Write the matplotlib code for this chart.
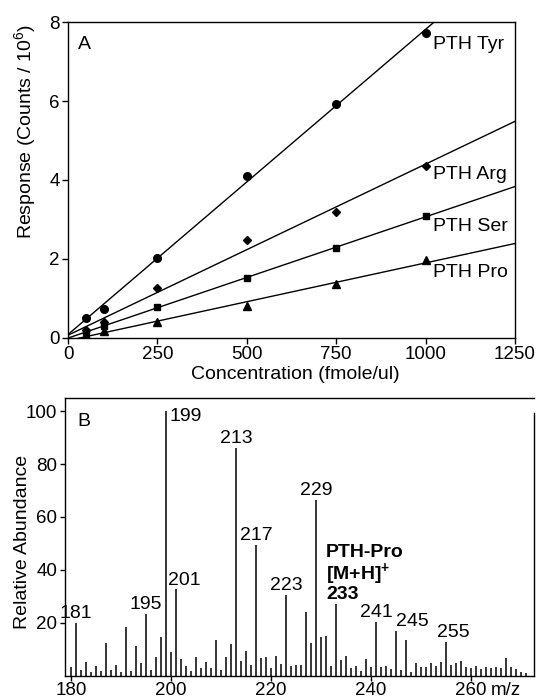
import numpy as np
import matplotlib
matplotlib.use('Agg')
import matplotlib.pyplot as plt

plt.rcParams['font.family'] = ['Liberation Sans', 'DejaVu Sans']
plt.rcParams['mathtext.fontset'] = 'custom'
plt.rcParams['mathtext.rm'] = 'Liberation Sans'
plt.rcParams['mathtext.it'] = 'Liberation Sans'
plt.rcParams['mathtext.bf'] = 'Liberation Sans:bold'

# --- panel A: calibration data ---
conc = [50, 100, 250, 500, 750, 1000]
tyr = [0.51, 0.73, 2.02, 4.09, 5.93, 7.72]
arg = [0.20, 0.40, 1.27, 2.47, 3.20, 4.36]
ser = [0.15, 0.30, 0.78, 1.53, 2.28, 3.08]
pro = [0.08, 0.17, 0.40, 0.82, 1.37, 1.98]
series_names = ['PTH Tyr', 'PTH Arg', 'PTH Ser', 'PTH Pro']
series_values = [tyr, arg, ser, pro]
series_markers = ['o', 'D', 's', '^']
label_y = [7.42, 4.13, 2.83, 1.65]

# --- panel B: mass spectrum of PTH-Pro ---
mz = list(range(180, 272))
abundance = [3.1, 20.0, 2.1, 5.2, 1.5, 3.8, 1.8, 12.2, 2.1, 4.0,
             1.5, 18.5, 1.9, 11.2, 4.7, 23.2, 2.1, 7.2, 14.7, 100.0,
             9.0, 32.6, 6.4, 3.8, 1.9, 6.9, 2.8, 5.3, 3.0, 13.4,
             2.1, 7.2, 11.8, 86.0, 5.7, 9.2, 4.0, 49.4, 6.5, 7.2,
             2.8, 7.4, 4.4, 30.5, 3.6, 4.0, 4.0, 24.0, 12.5, 66.6,
             14.5, 15.0, 3.7, 27.0, 6.0, 7.4, 2.8, 3.8, 1.9, 6.2,
             3.4, 20.4, 3.4, 3.7, 2.4, 16.9, 2.1, 13.3, 1.5, 4.7,
             3.1, 3.4, 4.9, 3.7, 5.2, 12.6, 4.0, 4.7, 5.5, 3.1,
             2.8, 3.7, 2.4, 3.1, 2.8, 3.4, 2.8, 6.8, 3.1, 2.4,
             1.5, 1.0]
labelled = [181, 195, 199, 201, 213, 217, 223, 229, 241, 245, 255]
# label placement (x shift in m/z units, horizontal alignment)
label_style = {199: (0.8, 'left'), 201: (1.6, 'center'), 245: (0.1, 'left'),
               255: (1.5, 'center')}

fig = plt.figure(figsize=(5.41, 6.99), dpi=100)

# panel A
ax = fig.add_axes([0.1257, 0.5165, 0.8262, 0.452])
xfit = np.array([0, 1250])
for name, vals, mk, ly in zip(series_names, series_values, series_markers, label_y):
    slope, icept = np.polyfit(conc, vals, 1)
    ax.plot(xfit, slope * xfit + icept, color='black', lw=1.0)
    ms = 4.5 if mk in ('D', 's') else 5.5
    ax.plot(conc, vals, linestyle='none', marker=mk, color='black', ms=ms)
    ax.text(1022, ly, name, fontsize=14, ha='left', va='center')
ax.set_xlim(0, 1250)
ax.set_ylim(0, 8)
ax.set_xticks([0, 250, 500, 750, 1000, 1250])
ax.set_yticks([0, 2, 4, 6, 8])
ax.tick_params(direction='out', length=4, width=1, labelsize=13.5, pad=2)
ax.set_xlabel('Concentration (fmole/ul)', fontsize=14)
ax.set_ylabel('Response (Counts / 10$^6$)', fontsize=14)
ax.xaxis.set_label_coords(0.508, -0.09)
ax.yaxis.set_label_coords(-0.067, 0.652)
ax.text(0.022, 0.93, 'A', transform=ax.transAxes, fontsize=14, va='center')
for sp in ax.spines.values():
    sp.set_linewidth(1.0)

# panel B
bx = fig.add_axes([0.1201, 0.0335, 0.8669, 0.3971])
bx.vlines(mz, 0, abundance, color='black', lw=1.1)
for m in labelled:
    h = abundance[mz.index(m)]
    dx, ha = label_style.get(m, (0.0, 'center'))
    if m == 199:
        bx.text(m + dx, h - 2, str(m), fontsize=14, ha=ha, va='center')
    else:
        bx.text(m + dx, h + 0.3, str(m), fontsize=14, ha=ha, va='bottom')
h233 = abundance[mz.index(233)]
bx.text(233 - 2.0, h233 + 0.5, 'PTH-Pro\n[M+H]$^\\mathbf{+}$\n233', fontsize=14,
        fontweight='bold', ha='left', va='bottom', linespacing=0.95)
bx.set_xlim(178.8, 272.6)
bx.set_ylim(0, 105)
bx.set_xticks([180, 200, 220, 240, 260])
bx.set_yticks([20, 40, 60, 80, 100])
bx.tick_params(direction='out', length=3.5, width=1, labelsize=13.5)
bx.tick_params(axis='x', pad=1)
bx.tick_params(axis='y', pad=2)
bx.annotate('m/z', xy=(264, 0), xycoords=bx.get_xaxis_transform(),
            xytext=(0, -4.5), textcoords='offset points', fontsize=13.5,
            ha='left', va='top')
bx.set_ylabel('Relative Abundance', fontsize=14)
bx.yaxis.set_label_coords(-0.0725, 0.48)
bx.text(0.026, 0.917, 'B', transform=bx.transAxes, fontsize=14, va='center')
bx.spines['right'].set_bounds(0, 99.5)
for sp in bx.spines.values():
    sp.set_linewidth(1.0)

fig.savefig('out.png', dpi=100)
